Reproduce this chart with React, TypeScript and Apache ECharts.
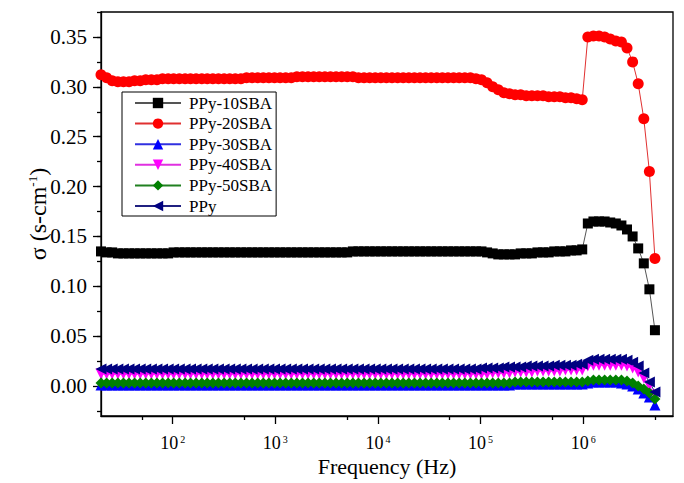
import React, { useEffect, useRef } from "react";
import * as echarts from "echarts";

// ---------- data ----------
const freqHz = [
  20, 22.7, 25.7, 29.2, 33.1, 37.5, 42.5, 48.2, 54.6, 61.9,
  70.2, 79.6, 90.3, 102, 116, 132, 149, 169, 192, 217,
  246, 279, 317, 359, 407, 462, 524, 594, 673, 763,
  865, 981, 1112, 1261, 1430, 1621, 1838, 2084, 2363, 2679,
  3037, 3444, 3905, 4427, 5020, 5692, 6453, 7317, 8296, 9406,
  10665, 12092, 13710, 15545, 17625, 19983, 22657, 25688, 29126, 33023,
  37442, 42452, 48133, 54574, 61876, 70156, 79543, 90187, 102047, 115700,
  131200, 148760, 168660, 191230, 216820, 245840, 278730, 316030, 358320, 406260,
  460630, 522270, 592150, 671390, 761220, 863080, 978570, 1109500, 1258000, 1426300,
  1617200, 1833600, 2078900, 2357100, 2672500, 3030100, 3435600, 3895300, 4416500, 5000000,
];

const seriesNames = ["PPy-10SBA", "PPy-20SBA", "PPy-30SBA", "PPy-40SBA", "PPy-50SBA", "PPy"];

const ppy10SBA = [
  0.135, 0.134, 0.134, 0.133, 0.133, 0.133, 0.133, 0.133, 0.133, 0.133,
  0.133, 0.133, 0.133, 0.134, 0.134, 0.134, 0.134, 0.134, 0.134, 0.134,
  0.134, 0.134, 0.134, 0.134, 0.134, 0.134, 0.134, 0.134, 0.134, 0.134,
  0.134, 0.134, 0.134, 0.134, 0.134, 0.134, 0.134, 0.134, 0.134, 0.134,
  0.134, 0.134, 0.134, 0.134, 0.134, 0.135, 0.135, 0.135, 0.135, 0.135,
  0.135, 0.135, 0.135, 0.135, 0.135, 0.135, 0.135, 0.135, 0.135, 0.135,
  0.135, 0.135, 0.135, 0.135, 0.135, 0.135, 0.135, 0.135, 0.135, 0.134,
  0.133, 0.132, 0.132, 0.132, 0.132, 0.133, 0.133, 0.133, 0.134, 0.134,
  0.134, 0.135, 0.135, 0.135, 0.136, 0.136, 0.137, 0.163, 0.165, 0.165,
  0.165, 0.164, 0.163, 0.161, 0.157, 0.150, 0.138, 0.123, 0.097, 0.056,
];

const ppy20SBA = [
  0.312, 0.309, 0.306, 0.305, 0.305, 0.305, 0.306, 0.306, 0.307, 0.307,
  0.307, 0.308, 0.308, 0.308, 0.308, 0.308, 0.308, 0.308, 0.308, 0.308,
  0.308, 0.308, 0.308, 0.308, 0.308, 0.308, 0.309, 0.309, 0.309, 0.309,
  0.309, 0.309, 0.309, 0.309, 0.309, 0.310, 0.310, 0.310, 0.310, 0.310,
  0.310, 0.310, 0.310, 0.310, 0.310, 0.310, 0.309, 0.309, 0.309, 0.309,
  0.309, 0.309, 0.309, 0.309, 0.309, 0.309, 0.309, 0.309, 0.309, 0.309,
  0.309, 0.309, 0.309, 0.309, 0.309, 0.309, 0.309, 0.308, 0.307, 0.304,
  0.300, 0.297, 0.294, 0.293, 0.292, 0.292, 0.291, 0.291, 0.291, 0.291,
  0.290, 0.290, 0.290, 0.289, 0.289, 0.288, 0.287, 0.350, 0.351, 0.351,
  0.350, 0.348, 0.346, 0.345, 0.339, 0.325, 0.303, 0.268, 0.215, 0.128,
];

const ppy30SBA = [
  0.001, 0.001, 0.001, 0.001, 0.001, 0.001, 0.001, 0.001, 0.001, 0.001,
  0.001, 0.001, 0.001, 0.001, 0.001, 0.001, 0.001, 0.001, 0.001, 0.001,
  0.001, 0.001, 0.001, 0.001, 0.001, 0.001, 0.001, 0.001, 0.001, 0.001,
  0.001, 0.001, 0.001, 0.001, 0.001, 0.001, 0.001, 0.001, 0.001, 0.001,
  0.001, 0.001, 0.001, 0.001, 0.001, 0.001, 0.001, 0.001, 0.001, 0.001,
  0.001, 0.001, 0.001, 0.001, 0.001, 0.001, 0.001, 0.001, 0.001, 0.001,
  0.001, 0.001, 0.001, 0.001, 0.001, 0.001, 0.001, 0.001, 0.001, 0.001,
  0.001, 0.001, 0.001, 0.001, 0.002, 0.002, 0.002, 0.002, 0.002, 0.002,
  0.002, 0.002, 0.002, 0.002, 0.002, 0.002, 0.002, 0.003, 0.004, 0.004,
  0.004, 0.004, 0.004, 0.003, 0.002, 0.000, -0.003, -0.007, -0.011, -0.019,
];

const ppy40SBA = [
  0.012, 0.012, 0.012, 0.012, 0.012, 0.012, 0.012, 0.012, 0.012, 0.012,
  0.012, 0.012, 0.012, 0.012, 0.012, 0.012, 0.012, 0.012, 0.012, 0.012,
  0.012, 0.012, 0.012, 0.012, 0.012, 0.012, 0.012, 0.012, 0.012, 0.012,
  0.012, 0.012, 0.012, 0.012, 0.012, 0.012, 0.012, 0.012, 0.012, 0.012,
  0.012, 0.012, 0.012, 0.012, 0.012, 0.012, 0.012, 0.012, 0.012, 0.012,
  0.012, 0.012, 0.012, 0.012, 0.012, 0.012, 0.012, 0.012, 0.012, 0.012,
  0.012, 0.012, 0.012, 0.012, 0.012, 0.012, 0.012, 0.012, 0.012, 0.012,
  0.013, 0.013, 0.013, 0.013, 0.014, 0.014, 0.014, 0.014, 0.015, 0.015,
  0.015, 0.015, 0.015, 0.016, 0.016, 0.016, 0.016, 0.020, 0.021, 0.021,
  0.021, 0.021, 0.021, 0.021, 0.020, 0.018, 0.014, 0.008, 0.000, -0.009,
];

const ppy50SBA = [
  0.003, 0.003, 0.003, 0.003, 0.003, 0.003, 0.003, 0.003, 0.003, 0.003,
  0.003, 0.003, 0.003, 0.003, 0.003, 0.003, 0.003, 0.003, 0.003, 0.003,
  0.003, 0.003, 0.003, 0.003, 0.003, 0.003, 0.003, 0.003, 0.003, 0.003,
  0.003, 0.003, 0.003, 0.003, 0.003, 0.003, 0.003, 0.003, 0.003, 0.003,
  0.003, 0.003, 0.003, 0.003, 0.003, 0.003, 0.003, 0.003, 0.003, 0.003,
  0.003, 0.003, 0.003, 0.003, 0.003, 0.003, 0.003, 0.003, 0.003, 0.003,
  0.003, 0.003, 0.003, 0.003, 0.003, 0.003, 0.003, 0.003, 0.003, 0.003,
  0.003, 0.003, 0.003, 0.003, 0.004, 0.004, 0.004, 0.004, 0.004, 0.004,
  0.004, 0.004, 0.004, 0.004, 0.004, 0.004, 0.004, 0.005, 0.006, 0.006,
  0.006, 0.006, 0.006, 0.006, 0.005, 0.003, 0.000, -0.003, -0.007, -0.013,
];

const ppyPure = [
  0.017, 0.017, 0.017, 0.017, 0.017, 0.017, 0.017, 0.017, 0.017, 0.017,
  0.017, 0.017, 0.017, 0.017, 0.017, 0.017, 0.017, 0.017, 0.017, 0.017,
  0.017, 0.017, 0.017, 0.017, 0.017, 0.017, 0.017, 0.017, 0.017, 0.017,
  0.017, 0.017, 0.017, 0.017, 0.017, 0.017, 0.017, 0.017, 0.017, 0.017,
  0.017, 0.017, 0.017, 0.017, 0.017, 0.017, 0.017, 0.017, 0.017, 0.017,
  0.017, 0.017, 0.017, 0.017, 0.017, 0.017, 0.017, 0.017, 0.017, 0.017,
  0.017, 0.017, 0.017, 0.017, 0.017, 0.017, 0.017, 0.017, 0.018, 0.018,
  0.018, 0.018, 0.019, 0.019, 0.019, 0.019, 0.020, 0.020, 0.020, 0.020,
  0.020, 0.021, 0.021, 0.021, 0.021, 0.022, 0.022, 0.026, 0.027, 0.027,
  0.027, 0.027, 0.027, 0.027, 0.026, 0.024, 0.020, 0.013, 0.004, -0.006,
];

const allValues = [ppy10SBA, ppy20SBA, ppy30SBA, ppy40SBA, ppy50SBA, ppyPure];

// axis ranges
const X_MIN = 20;
const X_MAX = 7.5e6;
const Y_MIN = -0.03;
const Y_MAX = 0.375;
const X_MAJOR_RANGE = [100, 1e6]; // decades labelled 10^2 .. 10^6
const X_MINOR_RANGE = [50, 5e6]; // 5 x 10^n minor ticks
const Y_MAJOR_RANGE = [0, 0.35];
const Y_MINOR_RANGE = [-0.025, 0.375];

// ---------- styling / layout ----------
const W = 684;
const H = 483;
const PLOT = { left: 101, right: 673, top: 12, bottom: 416 };
const FONT = "Liberation Serif";

const COLORS = ["#000000", "#ff0000", "#0000ff", "#ff00ff", "#008000", "#000080"];
const LINE_COLORS = ["#555555", "#e03030", "#3030e0", "#e030e0", "#208020", "#202080"];
const SYMBOLS = [
  "rect",
  "circle",
  "triangle",
  "path://M0,0L10,0L5,10Z",
  "diamond",
  "path://M10,0L10,10L0,5Z",
];
const SYMBOL_SIZES = [10, 11, 11, 11, 11, 11];

const log10 = (v: number) => Math.log(v) / Math.LN10;
const xPx = (f: number) =>
  PLOT.left +
  ((log10(f) - log10(X_MIN)) / (log10(X_MAX) - log10(X_MIN))) * (PLOT.right - PLOT.left);
const yPx = (v: number) =>
  PLOT.bottom - ((v - Y_MIN) / (Y_MAX - Y_MIN)) * (PLOT.bottom - PLOT.top);

export default function App() {
  const ref = useRef<HTMLDivElement>(null);

  useEffect(() => {
    if (!ref.current) return;
    const chart = echarts.init(ref.current, undefined, { renderer: "svg" });

    const plotW = PLOT.right - PLOT.left;
    const plotH = PLOT.bottom - PLOT.top;
    const hidden = { show: false };
    const noLine = { show: false, onZero: false };

    const grids = [
      {
        left: PLOT.left, top: PLOT.top, width: plotW, height: plotH,
        show: true, borderColor: "#000", borderWidth: 1.3, backgroundColor: "transparent",
      },
      {
        left: xPx(X_MAJOR_RANGE[0]), width: xPx(X_MAJOR_RANGE[1]) - xPx(X_MAJOR_RANGE[0]),
        top: PLOT.top, height: plotH,
      },
      {
        left: xPx(X_MINOR_RANGE[0]), width: xPx(X_MINOR_RANGE[1]) - xPx(X_MINOR_RANGE[0]),
        top: PLOT.top, height: plotH,
      },
      {
        left: PLOT.left, width: plotW,
        top: yPx(Y_MAJOR_RANGE[1]), height: yPx(Y_MAJOR_RANGE[0]) - yPx(Y_MAJOR_RANGE[1]),
      },
      {
        left: PLOT.left, width: plotW,
        top: yPx(Y_MINOR_RANGE[1]), height: yPx(Y_MINOR_RANGE[0]) - yPx(Y_MINOR_RANGE[1]),
      },
    ].map((g) => ({ ...g, containLabel: false, outerBoundsMode: "none" }));

    const tickStyle = { color: "#000", width: 1.3 };

    const xAxes = [
      {
        gridIndex: 0, type: "log", logBase: 10, min: X_MIN, max: X_MAX,
        axisLine: { show: true, onZero: false, lineStyle: { color: "#000", width: 1.3 } },
        axisTick: hidden, axisLabel: hidden, splitLine: hidden, minorTick: hidden,
        name: "Frequency (Hz)", nameLocation: "middle", nameGap: 39,
        nameTextStyle: { fontFamily: FONT, fontSize: 22, color: "#000" },
      },
      {
        gridIndex: 1, type: "log", logBase: 10, min: X_MAJOR_RANGE[0], max: X_MAJOR_RANGE[1],
        axisLine: noLine, splitLine: hidden,
        axisTick: { show: true, inside: false, length: 8, lineStyle: tickStyle },
        axisLabel: {
          show: true, margin: 18, fontFamily: FONT,
          formatter: (v: number) => `{b|10}{s|${Math.round(log10(v))}}`,
          rich: {
            b: { fontFamily: FONT, fontSize: 18, color: "#000" },
            s: { fontFamily: FONT, fontSize: 10, color: "#000", verticalAlign: "top", padding: [0, 0, 0, 2] },
          },
        },
      },
      {
        gridIndex: 2, type: "value", min: 0, max: 5, interval: 1,
        axisLine: noLine, splitLine: hidden, axisLabel: hidden,
        axisTick: { show: true, inside: false, length: 4, lineStyle: tickStyle },
      },
      { gridIndex: 3, type: "value", show: false, axisLine: noLine },
      { gridIndex: 4, type: "value", show: false, axisLine: noLine },
    ];

    const yAxes = [
      {
        gridIndex: 0, type: "value", min: Y_MIN, max: Y_MAX,
        axisLine: { show: true, onZero: false, lineStyle: { color: "#000", width: 1.3 } },
        axisTick: hidden, axisLabel: hidden, splitLine: hidden,
        name: "{a|σ (s-cm}{s|-1}{a|)}", nameLocation: "middle", nameGap: 51,
        nameTextStyle: {
          fontFamily: FONT,
          rich: {
            a: { fontFamily: FONT, fontSize: 24, color: "#000" },
            s: { fontFamily: FONT, fontSize: 13, color: "#000", verticalAlign: "top" },
          },
        },
      },
      { gridIndex: 1, type: "value", show: false, axisLine: noLine },
      { gridIndex: 2, type: "value", show: false, axisLine: noLine },
      {
        gridIndex: 3, type: "value", min: Y_MAJOR_RANGE[0], max: Y_MAJOR_RANGE[1], interval: 0.05,
        axisLine: noLine, splitLine: hidden,
        axisTick: { show: true, inside: false, length: 8, lineStyle: tickStyle },
        axisLabel: {
          show: true, margin: 14, fontFamily: FONT, fontSize: 21, color: "#000",
          formatter: (v: number) => v.toFixed(2),
        },
      },
      {
        gridIndex: 4, type: "value", min: Y_MINOR_RANGE[0], max: Y_MINOR_RANGE[1], interval: 0.025,
        axisLine: noLine, splitLine: hidden, axisLabel: hidden,
        axisTick: { show: true, inside: false, length: 4, lineStyle: tickStyle },
      },
    ];

    const series = seriesNames.map((name, k) => ({
      name,
      type: "line",
      xAxisIndex: 0,
      yAxisIndex: 0,
      data: freqHz.map((f, i) => [f, allValues[k][i]]),
      symbol: SYMBOLS[k],
      symbolSize: SYMBOL_SIZES[k],
      showAllSymbol: true,
      itemStyle: { color: COLORS[k] },
      lineStyle: { color: LINE_COLORS[k], width: 1 },
      emphasis: { disabled: true },
    }));

    chart.setOption({
      animation: false,
      backgroundColor: "#fff",
      textStyle: { fontFamily: FONT },
      grid: grids,
      xAxis: xAxes,
      yAxis: yAxes,
      legend: {
        data: seriesNames,
        orient: "vertical",
        left: 122,
        top: 92,
        itemWidth: 46,
        itemHeight: 13,
        itemGap: 2.6,
        padding: [2, 4, 1, 12],
        borderColor: "#000",
        borderWidth: 1,
        backgroundColor: "#fff",
        selectedMode: false,
        textStyle: {
          fontFamily: FONT, fontSize: 17, color: "#000", lineHeight: 18,
          padding: [0, 0, 0, 3],
        },
      },
      series,
    });

    return () => chart.dispose();
  }, []);

  return (
    <div
      ref={ref}
      style={{ position: "fixed", left: 0, top: 0, width: W, height: H, background: "#fff" }}
    />
  );
}
